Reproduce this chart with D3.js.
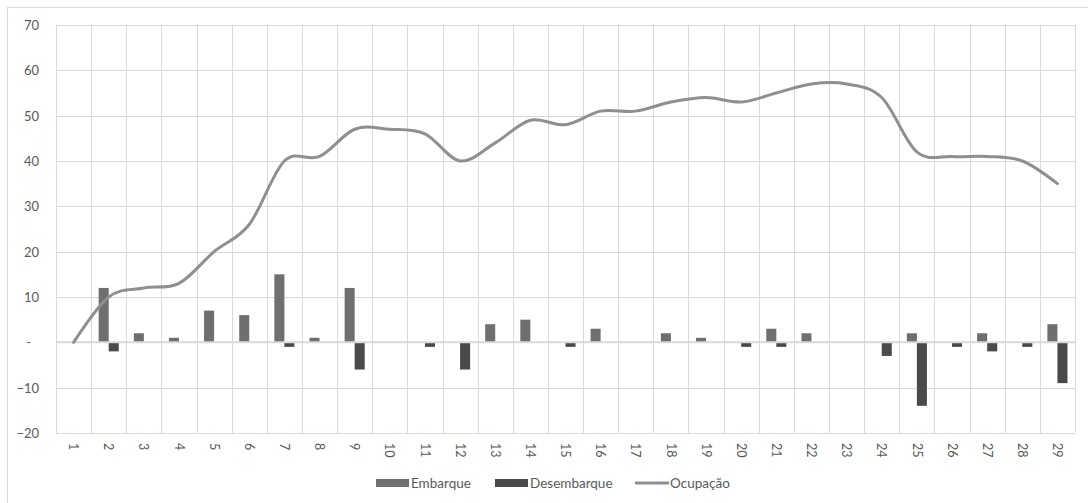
<!DOCTYPE html>
<html>
<head>
<meta charset="utf-8">
<script src="https://cdn.jsdelivr.net/npm/d3@7"></script>
<style>
  html, body { margin: 0; padding: 0; background: #fff; }
  svg { display: block; }
  text { font-family: Lato, "Open Sans", sans-serif; fill: #595959; }
</style>
</head>
<body>
<svg id="chart" width="1088" height="503"></svg>
<script>
// Stops along the route
const stops = d3.range(1, 30).map(String);

// Passengers boarding at each stop
const embarque = [0, 12, 2, 1, 7, 6, 15, 1, 12, 0, 0, 0, 4, 5, 0, 3, 0, 2, 1, 0, 3, 2, 0, 0, 2, 0, 2, 0, 4];

// Passengers leaving at each stop (shown below zero)
const desembarque = [0, -2, 0, 0, 0, 0, -1, 0, -6, 0, -1, -6, 0, 0, -1, 0, 0, 0, 0, -1, -1, 0, 0, -3, -14, -1, -2, -1, -9];

// Passengers on board after each stop
const ocupacao = [0, 10, 12, 13, 20, 26, 40, 41, 47, 47, 46, 40, 44, 49, 48, 51, 51, 53, 54, 53, 55, 57, 57, 54, 42, 41, 41, 40, 35];

const yTicks = [-20, -10, 0, 10, 20, 30, 40, 50, 60, 70];

const seriesNames = ["Embarque", "Desembarque", "Ocupação"];
const colors = { Embarque: "#6f6f6f", Desembarque: "#4a4a4a", "Ocupação": "#8f8f8f" };

const svg = d3.select("#chart");
const plot = { left: 56, right: 1075, top: 25, bottom: 433 };

// outer chart frame
svg.append("rect")
  .attr("x", 7.5).attr("y", 7.5)
  .attr("width", 1200).attr("height", 700)
  .attr("fill", "none").attr("stroke", "#d9d9d9");

const x = d3.scaleBand().domain(stops).range([plot.left, plot.right]).paddingInner(0).paddingOuter(0);
const xSub = d3.scaleBand().domain(["Embarque", "Desembarque"]).range([0, x.bandwidth()])
  .paddingInner(0).paddingOuter(0.75);
const y = d3.scaleLinear().domain([-20, 70]).range([plot.bottom, plot.top]);

// horizontal gridlines
svg.append("g")
  .selectAll("line").data(yTicks.filter(d => d !== 0)).join("line")
  .attr("x1", plot.left).attr("x2", plot.right)
  .attr("y1", d => Math.round(y(d)) + 0.5).attr("y2", d => Math.round(y(d)) + 0.5)
  .attr("stroke", "#d9d9d9").attr("stroke-width", 1);

// vertical gridlines between categories
const bounds = stops.map(s => x(s)).concat([plot.right]);
svg.append("g")
  .selectAll("line").data(bounds).join("line")
  .attr("x1", d => Math.round(d) + 0.5).attr("x2", d => Math.round(d) + 0.5)
  .attr("y1", plot.top).attr("y2", plot.bottom)
  .attr("stroke", "#d9d9d9").attr("stroke-width", 1);

// y axis labels
const yAxis = d3.axisLeft(y).tickValues(yTicks).tickSize(0).tickPadding(0)
  .tickFormat(d => d === 0 ? "-" : d3.format("d")(d));
const gy = svg.append("g").attr("transform", `translate(${plot.left - 17},0)`).call(yAxis);
gy.select(".domain").remove();
gy.selectAll("text").style("font-size", "13px").attr("fill", "#595959")
  .attr("dy", "0.35em")
  .attr("x", d => d === 0 ? -8 : 0);

// bars
const rows = stops.map((s, i) => ({ stop: s, Embarque: embarque[i], Desembarque: desembarque[i] }));
const barGroups = svg.append("g").selectAll("g").data(rows).join("g")
  .attr("transform", d => `translate(${x(d.stop)},0)`);
barGroups.selectAll("rect")
  .data(d => ["Embarque", "Desembarque"].map(k => ({ key: k, value: d[k] })).filter(v => v.value !== 0))
  .join("rect")
  .attr("x", d => xSub(d.key))
  .attr("width", xSub.bandwidth())
  .attr("y", d => y(Math.max(0, d.value)))
  .attr("height", d => Math.abs(y(d.value) - y(0)))
  .attr("fill", d => colors[d.key]);

// horizontal axis line at zero
svg.append("line")
  .attr("x1", plot.left).attr("x2", plot.right)
  .attr("y1", y(0)).attr("y2", y(0))
  .attr("stroke", "#d9d9d9").attr("stroke-width", 2);

// occupancy line
const line = d3.line()
  .x((d, i) => x(stops[i]) + x.bandwidth() / 2)
  .y(d => y(d))
  .curve(d3.curveCatmullRom.alpha(0));
svg.append("path")
  .datum(ocupacao)
  .attr("d", line)
  .attr("fill", "none")
  .attr("stroke", colors["Ocupação"])
  .attr("stroke-width", 3)
  .attr("stroke-linecap", "round")
  .attr("stroke-linejoin", "round");

// category labels, rotated
const xAxis = d3.axisBottom(x).tickSize(0).tickPadding(0);
const gx = svg.append("g").attr("transform", `translate(0,${plot.bottom + 10})`).call(xAxis);
gx.select(".domain").remove();
gx.selectAll("text")
  .style("font-size", "12.5px").attr("fill", "#595959")
  .attr("transform", "rotate(90)")
  .attr("y", 0).attr("dy", "0.35em")
  .attr("x", 0)
  .attr("text-anchor", "start");

// legend
const legend = svg.append("g").attr("transform", "translate(0,483)");
const legendItems = [
  { name: seriesNames[0], x: 376, type: "rect" },
  { name: seriesNames[1], x: 495, type: "rect" },
  { name: seriesNames[2], x: 635, type: "line" }
];
legendItems.forEach(it => {
  if (it.type === "rect") {
    legend.append("rect").attr("x", it.x).attr("y", -4).attr("width", 33).attr("height", 8)
      .attr("fill", colors[it.name]);
  } else {
    legend.append("line").attr("x1", it.x).attr("x2", it.x + 34).attr("y1", 0).attr("y2", 0)
      .attr("stroke", colors[it.name]).attr("stroke-width", 3);
  }
  legend.append("text").attr("x", it.x + 35).attr("y", 0).attr("dy", "0.35em")
    .style("font-size", "13.5px").text(it.name);
});
</script>
</body>
</html>
